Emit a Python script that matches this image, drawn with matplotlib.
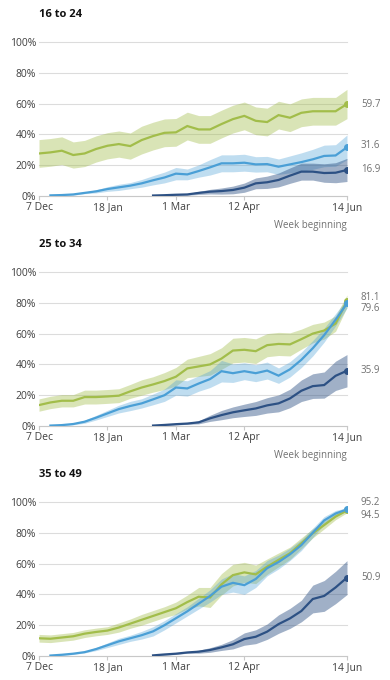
import numpy as np
import pandas as pd
import matplotlib
matplotlib.use("Agg")
import matplotlib.pyplot as plt
from matplotlib.transforms import blended_transform_factory


plt.rcParams["font.family"] = ["Open Sans", "DejaVu Sans"]

weeks = pd.date_range("2020-12-07", "2021-06-14", freq="7D")
tick_dates = ["2020-12-07", "2021-01-18", "2021-03-01", "2021-04-12", "2021-06-14"]
tick_labels = ["7 Dec", "18 Jan", "1 Mar", "12 Apr", "14 Jun"]
y_ticks = [0, 20, 40, 60, 80, 100]

panel_titles = ["16 to 24", "25 to 34", "35 to 49"]

# green series starts 7 Dec, light blue 14 Dec, dark blue 15 Feb
green_16_24 = [27.6, 28.3, 29.4, 26.6, 27.6, 30.5, 32.6, 33.7, 32.4, 36.3, 38.9, 41.0, 41.3, 45.4,
               43.2, 43.2, 46.7, 49.9, 52.0, 48.8, 48.0, 52.5, 50.8, 54.0, 55.0, 55.0, 55.0, 59.7]
green_16_24_ci = [9, 9, 9, 8.5, 8.5, 8.5, 8.5, 8.5, 8.5, 9, 9, 9, 9, 9,
                  9, 9, 9, 9, 9, 9, 9, 9, 9, 9, 9, 9, 9, 9.5]
light_16_24 = [0.4, 0.6, 1.0, 2.0, 3.0, 4.5, 5.6, 6.7, 8.2, 10.2, 12.0, 14.5, 14.0,
               16.2, 18.6, 21.2, 21.2, 21.6, 20.5, 20.7, 19.0, 20.5, 22.0, 23.8, 26.0, 26.3, 31.6]
light_16_24_ci = [0.5, 0.5, 0.5, 0.5, 1, 1.5, 2, 2, 2.5, 3, 3.5, 4, 3.5,
                  4, 5, 5.5, 5.5, 5.5, 5, 5, 5, 5.5, 6, 6.5, 7, 7, 8]
dark_16_24 = [0.3, 0.5, 0.8, 1.0, 2.0, 2.8, 3.2, 3.9, 5.4, 8.2, 8.9, 10.4, 13.2, 15.8,
              15.8, 14.9, 15.1, 16.9]
dark_16_24_ci = [0.5, 0.5, 0.5, 0.5, 1, 1.5, 2, 2.5, 3, 3.5, 4, 4.5, 5, 5.5,
                 5.5, 6, 6.5, 7.5]

green_25_34 = [13.6, 15.3, 16.4, 16.4, 18.8, 18.8, 19.2, 19.7, 22.5, 25.0, 27.0, 29.2, 32.0, 37.4,
               38.7, 40.0, 43.8, 49.0, 49.5, 48.6, 52.5, 53.3, 53.0, 56.4, 60.0, 62.0, 66.5, 81.1]
green_25_34_ci = [4, 4, 4, 4, 4.5, 4.5, 4.5, 4.5, 4.5, 5, 5, 5.5, 6, 6,
                  6.5, 7, 7, 8, 8, 8, 7.5, 7.5, 7.5, 6.5, 6, 5.5, 5, 4]
light_25_34 = [0.3, 0.6, 1.3, 2.8, 5.4, 8.2, 11.0, 13.0, 14.7, 17.3, 20.0, 25.0, 24.4,
               27.6, 30.5, 35.6, 34.3, 35.6, 34.3, 36.0, 32.7, 36.8, 43.0, 50.5, 59.0, 69.0, 79.6]
light_25_34_ci = [0.5, 0.5, 0.5, 1, 1.5, 2, 2.5, 3, 3, 3.5, 4, 5, 5,
                  5, 5.5, 7, 6, 5.5, 5.5, 5.5, 5, 5, 5, 5, 4.5, 4, 3]
dark_25_34 = [0.3, 0.7, 1.2, 1.6, 2.4, 5.0, 7.1, 8.9, 10.2, 11.4, 13.4, 14.7, 17.9, 22.9,
              25.9, 26.6, 32.6, 35.9]
dark_25_34_ci = [0.5, 0.5, 0.5, 0.5, 1, 2, 3, 3.5, 4, 4.5, 5, 5.5, 6, 7,
                 8, 8.5, 9.5, 10.5]

green_35_49 = [11.5, 11.2, 12.0, 12.8, 14.5, 15.6, 16.5, 18.5, 21.0, 23.5, 26.0, 28.5, 31.0, 35.0,
               38.5, 38.0, 46.5, 52.5, 54.3, 53.0, 58.0, 62.4, 66.7, 73.2, 79.7, 85.0, 90.5, 94.5]
green_35_49_ci = [2.5, 2.5, 2.5, 2.5, 2.5, 2.5, 2.5, 3, 3, 3.5, 3.5, 3.5, 4, 4.5,
                  6, 6.5, 7, 7, 6.5, 6, 5, 4.5, 4, 3.5, 3, 2.5, 2, 1.5]
light_35_49 = [0.3, 0.8, 1.5, 2.5, 4.5, 7.0, 9.5, 11.5, 13.5, 16.0, 20.0, 24.5, 29.0,
               34.0, 39.0, 45.0, 47.5, 46.0, 50.0, 57.0, 61.0, 66.0, 72.0, 80.0, 88.0, 92.5, 95.2]
light_35_49_ci = [0.5, 0.5, 0.5, 0.5, 1, 1.5, 2, 2, 2.5, 3, 3, 3, 3,
                  3.5, 4, 5, 6, 6, 5.5, 5, 4.5, 4, 3.5, 3, 2.5, 2, 1]
dark_35_49 = [0.4, 1.0, 1.5, 2.3, 2.8, 3.9, 5.6, 7.6, 11.0, 12.5, 15.8, 20.7, 24.4, 29.2,
              37.0, 39.0, 44.5, 50.9]
dark_35_49_ci = [0.5, 0.5, 0.5, 0.5, 1, 1.5, 2, 3, 4, 4.5, 5, 6, 6.5, 7,
                 9, 10, 10.5, 11]

end_labels = [
    [("59.7", 59.7), ("31.6", 32.5), ("16.9", 16.9)],
    [("81.1", 83.5), ("79.6", 76.5), ("35.9", 35.9)],
    [("95.2", 99.5), ("94.5", 91.0), ("50.9", 50.9)],
]

GREEN = "#a2bd4a"
LIGHT = "#4a9fd6"
DARK = "#2d5184"

panels = [
    [(green_16_24, green_16_24_ci, 0, GREEN, 0.40),
     (light_16_24, light_16_24_ci, 1, LIGHT, 0.35),
     (dark_16_24, dark_16_24_ci, 10, DARK, 0.45)],
    [(green_25_34, green_25_34_ci, 0, GREEN, 0.40),
     (light_25_34, light_25_34_ci, 1, LIGHT, 0.35),
     (dark_25_34, dark_25_34_ci, 10, DARK, 0.45)],
    [(green_35_49, green_35_49_ci, 0, GREEN, 0.40),
     (light_35_49, light_35_49_ci, 1, LIGHT, 0.35),
     (dark_35_49, dark_35_49_ci, 10, DARK, 0.45)],
]

fig = plt.figure(figsize=(3.9, 6.8), dpi=100)
bottoms = [0.7118, 0.3735, 0.0353]

for i, series in enumerate(panels):
    ax = fig.add_axes([0.1, bottoms[i], 0.7897, 0.2265])

    for vals, ci, start, color, alpha in series:
        x = weeks[start:start + len(vals)]
        v = np.array(vals)
        c = np.array(ci)
        ax.fill_between(x, v - c, v + c, color=color, alpha=alpha, lw=0, zorder=2)
    for vals, ci, start, color, alpha in series:
        x = weeks[start:start + len(vals)]
        ax.plot(x, vals, color=color, lw=1.6, zorder=3, solid_joinstyle="miter")
        ax.plot(x[-1], vals[-1], "o", color=color, ms=4, zorder=4)

    trans = blended_transform_factory(ax.transAxes, ax.transData)
    for text, ypos in end_labels[i]:
        ax.text(1.045, ypos, text, transform=trans, fontsize=7, color="#707070",
                ha="left", va="center")

    ax.set_ylim(0, 100)
    ax.set_xlim(weeks[0], weeks[-1])
    ax.set_yticks(y_ticks)
    ax.set_yticklabels([f"{t}%" for t in y_ticks])
    ax.set_xticks(pd.to_datetime(tick_dates))
    ax.set_xticklabels(tick_labels)
    ax.grid(axis="y", color="#dcdcdc", lw=0.8, zorder=0)
    for s in ["top", "right", "left"]:
        ax.spines[s].set_visible(False)
    ax.spines["bottom"].set_color("#c8c8c8")
    ax.spines["bottom"].set_linewidth(0.8)
    ax.tick_params(axis="y", length=0, pad=2, labelsize=7.5, labelcolor="#404040")
    ax.tick_params(axis="x", length=3, width=0.8, color="#c8c8c8", pad=1.5,
                   labelsize=7.5, labelcolor="#404040")
    for line in ax.get_ygridlines():
        line.set_clip_on(False)

    ax.text(0, 1.18, panel_titles[i], transform=ax.transAxes, fontsize=8,
            fontweight="bold", color="#111111", ha="left", va="center")
    # the bottom panel's caption falls below the picture's edge in the original
    if i < 2:
        ax.text(1, -0.193, "Week beginning", transform=ax.transAxes, fontsize=7,
                color="#707070", ha="right", va="center")

fig.savefig("out.png", dpi=100)
